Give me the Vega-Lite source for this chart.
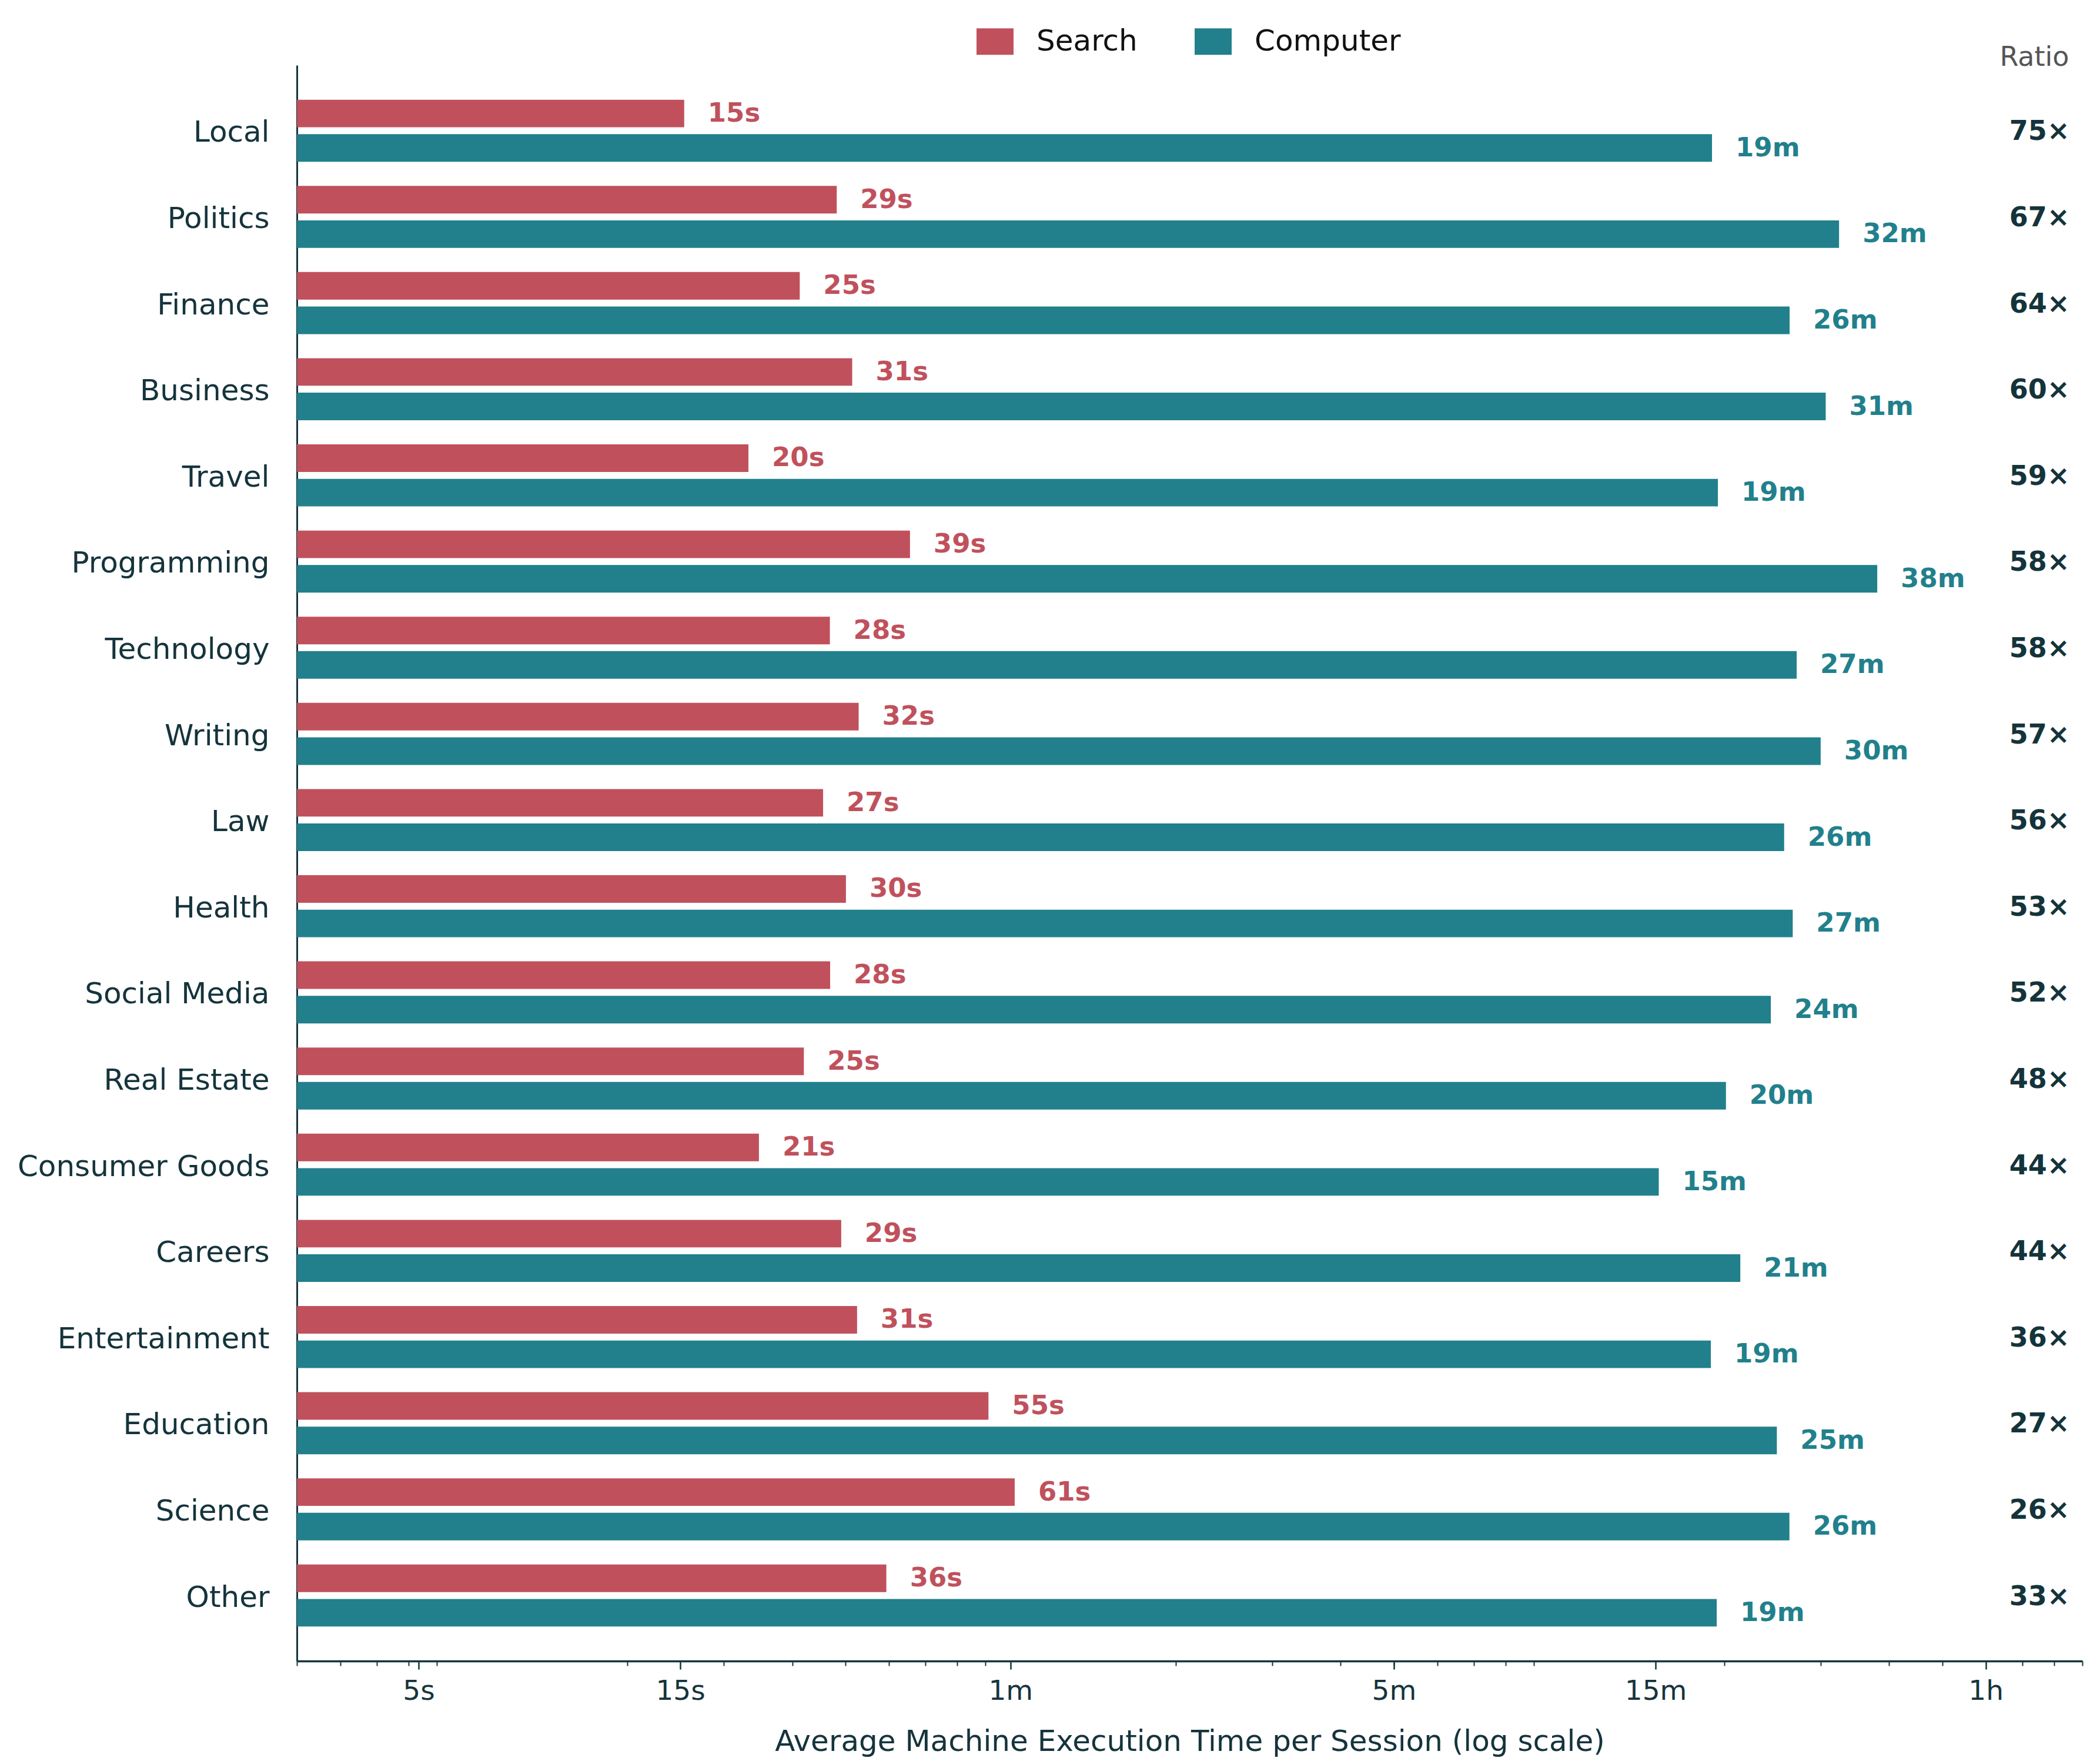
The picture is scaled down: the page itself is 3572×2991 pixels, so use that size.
{
  "$schema": "https://vega.github.io/schema/vega-lite/v6.json",
  "width": 3037,
  "height": 2715,
  "autosize": {"type": "none"},
  "padding": {"left": 505, "top": 111, "right": 30, "bottom": 165},
  "background": "white",
  "config": {"view": {"stroke": null}, "font": "DejaVu Sans"},
  "resolve": {"axis": {"x": "independent"}},
  "datasets": {
    "bars": [
      {"category": "Local", "series": "Search", "value": 15.25, "label": "15s"},
      {"category": "Local", "series": "Computer", "value": 1140.7, "label": "19m"},
      {"category": "Politics", "series": "Search", "value": 28.93, "label": "29s"},
      {"category": "Politics", "series": "Computer", "value": 1944.5, "label": "32m"},
      {"category": "Finance", "series": "Search", "value": 24.77, "label": "25s"},
      {"category": "Finance", "series": "Computer", "value": 1580, "label": "26m"},
      {"category": "Business", "series": "Search", "value": 30.87, "label": "31s"},
      {"category": "Business", "series": "Computer", "value": 1838.6, "label": "31m"},
      {"category": "Travel", "series": "Search", "value": 19.97, "label": "20s"},
      {"category": "Travel", "series": "Computer", "value": 1169.2, "label": "19m"},
      {"category": "Programming", "series": "Search", "value": 39.35, "label": "39s"},
      {"category": "Programming", "series": "Computer", "value": 2282.6, "label": "38m"},
      {"category": "Technology", "series": "Search", "value": 28.11, "label": "28s"},
      {"category": "Technology", "series": "Computer", "value": 1627.5, "label": "27m"},
      {"category": "Writing", "series": "Search", "value": 31.72, "label": "32s"},
      {"category": "Writing", "series": "Computer", "value": 1800, "label": "30m"},
      {"category": "Law", "series": "Search", "value": 27.32, "label": "27s"},
      {"category": "Law", "series": "Computer", "value": 1544.2, "label": "26m"},
      {"category": "Health", "series": "Search", "value": 30.07, "label": "30s"},
      {"category": "Health", "series": "Computer", "value": 1600.8, "label": "27m"},
      {"category": "Social Media", "series": "Search", "value": 28.14, "label": "28s"},
      {"category": "Social Media", "series": "Computer", "value": 1460.2, "label": "24m"},
      {"category": "Real Estate", "series": "Search", "value": 25.2, "label": "25s"},
      {"category": "Real Estate", "series": "Computer", "value": 1209.4, "label": "20m"},
      {"category": "Consumer Goods", "series": "Search", "value": 20.87, "label": "21s"},
      {"category": "Consumer Goods", "series": "Computer", "value": 912.2, "label": "15m"},
      {"category": "Careers", "series": "Search", "value": 29.48, "label": "29s"},
      {"category": "Careers", "series": "Computer", "value": 1284.6, "label": "21m"},
      {"category": "Entertainment", "series": "Search", "value": 31.51, "label": "31s"},
      {"category": "Entertainment", "series": "Computer", "value": 1135.1, "label": "19m"},
      {"category": "Education", "series": "Search", "value": 54.7, "label": "55s"},
      {"category": "Education", "series": "Computer", "value": 1497.6, "label": "25m"},
      {"category": "Science", "series": "Search", "value": 61.07, "label": "61s"},
      {"category": "Science", "series": "Computer", "value": 1578.8, "label": "26m"},
      {"category": "Other", "series": "Search", "value": 35.63, "label": "36s"},
      {"category": "Other", "series": "Computer", "value": 1163.4, "label": "19m"}
    ],
    "ratios": [
      {"category": "Local", "ratio": "75×"},
      {"category": "Politics", "ratio": "67×"},
      {"category": "Finance", "ratio": "64×"},
      {"category": "Business", "ratio": "60×"},
      {"category": "Travel", "ratio": "59×"},
      {"category": "Programming", "ratio": "58×"},
      {"category": "Technology", "ratio": "58×"},
      {"category": "Writing", "ratio": "57×"},
      {"category": "Law", "ratio": "56×"},
      {"category": "Health", "ratio": "53×"},
      {"category": "Social Media", "ratio": "52×"},
      {"category": "Real Estate", "ratio": "48×"},
      {"category": "Consumer Goods", "ratio": "44×"},
      {"category": "Careers", "ratio": "44×"},
      {"category": "Entertainment", "ratio": "36×"},
      {"category": "Education", "ratio": "27×"},
      {"category": "Science", "ratio": "26×"},
      {"category": "Other", "ratio": "33×"}
    ]
  },
  "encoding": {
    "y": {
      "field": "category",
      "type": "nominal",
      "scale": {
        "domain": ["Local", "Politics", "Finance", "Business", "Travel", "Programming", "Technology", "Writing", "Law", "Health", "Social Media", "Real Estate", "Consumer Goods", "Careers", "Entertainment", "Education", "Science", "Other"],
        "paddingInner": 0.2,
        "paddingOuter": 0.36
      },
      "axis": {
        "title": null,
        "ticks": false,
        "grid": false,
        "domainColor": "#15343c",
        "domainWidth": 3,
        "labelFont": "DejaVu Sans",
        "labelFontSize": 50,
        "labelColor": "#15343c",
        "labelPadding": 47,
        "labelOffset": 4,
        "labelLimit": 1000
      }
    }
  },
  "layer": [
    {
      "data": {"name": "bars"},
      "mark": {"type": "bar"},
      "encoding": {
        "x": {
          "field": "value",
          "type": "quantitative",
          "scale": {"type": "log", "domain": [3, 5400], "nice": false, "zero": false},
          "axis": {
            "orient": "bottom",
            "title": "Average Machine Execution Time per Session (log scale)",
            "values": [5, 15, 60, 300, 900, 3600],
            "labelExpr": "datum.value == 5 ? '5s' : datum.value == 15 ? '15s' : datum.value == 60 ? '1m' : datum.value == 300 ? '5m' : datum.value == 900 ? '15m' : '1h'",
            "tickSize": 14,
            "tickWidth": 2.5,
            "tickColor": "#15343c",
            "grid": false,
            "domainColor": "#15343c",
            "domainWidth": 3.5,
            "labelFont": "DejaVu Sans",
            "labelFontSize": 47,
            "labelColor": "#15343c",
            "labelOverlap": false,
            "labelFlush": false,
            "labelBound": false,
            "labelPadding": 14,
            "titleFont": "DejaVu Sans",
            "titleFontSize": 50,
            "titleFontWeight": "normal",
            "titleColor": "#15343c",
            "titlePadding": 38
          }
        },
        "x2": {"datum": 3},
        "yOffset": {
          "field": "series",
          "type": "nominal",
          "scale": {"domain": ["Search", "Computer"], "paddingInner": 0.2, "paddingOuter": 0.1}
        },
        "color": {
          "field": "series",
          "type": "nominal",
          "scale": {"domain": ["Search", "Computer"], "range": ["#c0515c", "#21808c"]},
          "legend": {
            "title": null,
            "orient": "none",
            "legendX": 1156,
            "legendY": -72,
            "direction": "horizontal",
            "padding": 0,
            "symbolType": "M-1,-0.714H1V0.714H-1Z",
            "symbolSize": 3969,
            "symbolStrokeWidth": 0,
            "labelFont": "DejaVu Sans",
            "labelFontSize": 50,
            "labelColor": "#111111",
            "labelOffset": 39,
            "labelLimit": 1000,
            "columnPadding": 97
          }
        }
      }
    },
    {
      "data": {"name": "bars"},
      "mark": {"type": "text", "align": "left", "baseline": "middle", "dx": 40, "dy": 0, "fontSize": 45, "fontWeight": "bold", "font": "DejaVu Sans"},
      "encoding": {
        "x": {
          "field": "value",
          "type": "quantitative",
          "axis": {
            "orient": "bottom",
            "title": null,
            "values": [3, 3.6, 4.2, 4.8, 5.4, 12, 18, 24, 30, 36, 42, 48, 54, 120, 180, 240, 300, 360, 420, 480, 540, 1200, 1800, 2400, 3000, 4200, 4800, 5400],
            "labels": false,
            "domain": false,
            "grid": false,
            "tickSize": 8,
            "tickWidth": 2,
            "tickColor": "#15343c"
          }
        },
        "yOffset": {"field": "series", "type": "nominal"},
        "text": {"field": "label"},
        "color": {"condition": {"test": "datum.series === 'Search'", "value": "#c0515c"}, "value": "#21808c"}
      }
    },
    {
      "data": {"name": "ratios"},
      "mark": {"type": "text", "align": "right", "baseline": "middle", "dy": 2, "fontSize": 46, "fontWeight": "bold", "font": "DejaVu Sans", "color": "#14343b"},
      "encoding": {
        "x": {
          "datum": 5120,
          "type": "quantitative",
          "axis": {
            "orient": "top",
            "title": "Ratio",
            "domain": false,
            "ticks": false,
            "labels": false,
            "grid": false,
            "titleFont": "DejaVu Sans",
            "titleFontSize": 46,
            "titleFontWeight": "normal",
            "titleColor": "#555555",
            "titleX": 3014,
            "titleY": 0,
            "titleAlign": "right",
            "titleBaseline": "alphabetic",
            "titleAnchor": null
          }
        },
        "text": {"field": "ratio"}
      }
    }
  ]
}
